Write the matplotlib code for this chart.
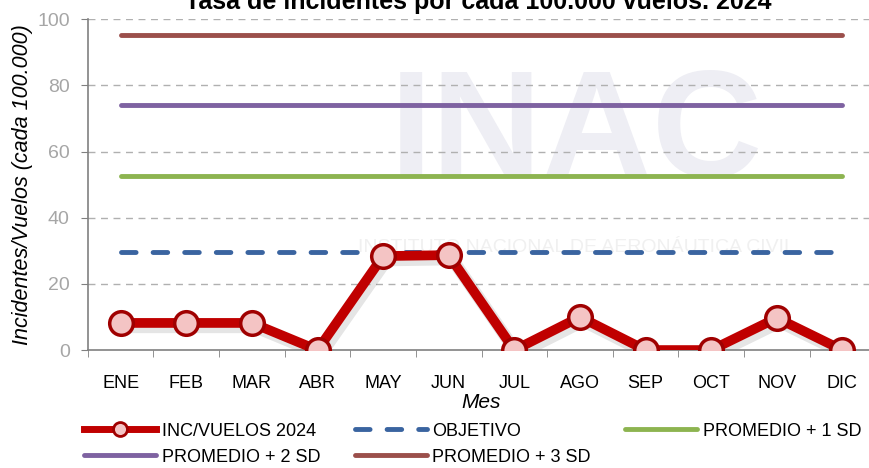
import matplotlib
matplotlib.use("Agg")
import matplotlib.pyplot as plt
from matplotlib.lines import Line2D

months = ["ENE", "FEB", "MAR", "ABR", "MAY", "JUN", "JUL", "AGO", "SEP", "OCT", "NOV", "DIC"]
inc_vuelos = [8.2, 8.2, 8.2, 0, 28.4, 28.7, 0, 10.0, 0, 0, 9.7, 0]
objetivo = 29.6
prom_1sd = 52.6
prom_2sd = 74.0
prom_3sd = 95.2
yticks = [0, 20, 40, 60, 80, 100]

plt.rcParams['font.family'] = ['Liberation Sans', 'DejaVu Sans']

fig = plt.figure(figsize=(8.7, 4.68), dpi=100)
ax = fig.add_axes([0.101, 0.252, 0.905, 0.707])

x = list(range(len(months)))
ax.set_xlim(-0.5, len(months) - 0.5)
ax.set_ylim(0, 100)

# watermark
ax.text(0.62, 0.64, "INAC", transform=ax.transAxes, fontsize=110, color="#eeeef4",
        ha="center", va="center", fontweight="bold", zorder=0)
ax.text(0.62, 0.31, "INSTITUTO NACIONAL DE AERONÁUTICA CIVIL", transform=ax.transAxes,
        fontsize=14, color="#f0f0f0", ha="center", va="center", zorder=0)

for v in yticks[1:]:
    ax.axhline(v, color="#b0b0b0", lw=1, ls=(0, (5, 4)), zorder=1)

ax.plot([x[0], x[-1]], [prom_3sd] * 2, color="#9B4F4B", lw=3.5, solid_capstyle="round", zorder=2)
ax.plot([x[0], x[-1]], [prom_2sd] * 2, color="#7E62A1", lw=3.5, solid_capstyle="round", zorder=2)
ax.plot([x[0], x[-1]], [prom_1sd] * 2, color="#8DB450", lw=3.5, solid_capstyle="round", zorder=2)
ax.plot([x[0], x[-1]], [objetivo] * 2, color="#3A64A0", lw=3.5, ls=(0, (3, 3.5)),
        dash_capstyle="round", zorder=2)

# shadow
ax.plot([xi + 0.05 for xi in x], [v - 1.2 for v in inc_vuelos], color="#000000", alpha=0.10,
        lw=9, zorder=2.5, solid_joinstyle="round")
ax.plot(x, inc_vuelos, color="#C00000", lw=7, zorder=3, solid_joinstyle="miter",
        marker="o", markersize=17, markerfacecolor="#F4C4C4", markeredgecolor="#A00000",
        markeredgewidth=2.5)

ax.set_xticks(x)
ax.set_xticklabels(months, fontsize=13)
ax.set_xticks([i - 0.5 for i in range(len(months) + 1)], minor=True)
ax.tick_params(axis="x", which="major", length=0, pad=18)
ax.tick_params(axis="x", which="minor", length=5, color="#808080")
ax.set_yticks(yticks)
ax.set_yticklabels([str(v) for v in yticks], fontsize=14, color="#a6a6a6")
ax.tick_params(axis="y", length=5, color="#808080", direction="out", pad=8)

for s in ["top", "right"]:
    ax.spines[s].set_visible(False)
for s in ["left", "bottom"]:
    ax.spines[s].set_color("#808080")
    ax.spines[s].set_linewidth(1.2)

ax.set_ylabel("Incidentes/Vuelos (cada 100.000)", fontsize=15.5, style="italic", labelpad=3)
ax.set_xlabel("Mes", fontsize=15, style="italic", labelpad=1)

fig.text(0.55, 0.995, "Tasa de incidentes por cada 100.000 vuelos. 2024", ha="center", va="center",
         fontsize=18, fontweight="bold")

h_inc = Line2D([0], [0], color="#C00000", lw=5, marker="o", markersize=10,
               markerfacecolor="#F4C4C4", markeredgecolor="#A00000", markeredgewidth=2)
h_obj = Line2D([0], [0], color="#3A64A0", lw=3.5, ls=(0, (3, 3.5)), dash_capstyle="round")
h_1 = Line2D([0], [0], color="#8DB450", lw=3.5, solid_capstyle="round")
h_2 = Line2D([0], [0], color="#7E62A1", lw=3.5, solid_capstyle="round")
h_3 = Line2D([0], [0], color="#9B4F4B", lw=3.5, solid_capstyle="round")
handles = [h_inc, h_2, h_obj, h_3, h_1]
labels = ["INC/VUELOS 2024", "PROMEDIO + 2 SD", "OBJETIVO", "PROMEDIO + 3 SD", "PROMEDIO + 1 SD"]
fig.legend(handles, labels, loc="lower left", bbox_to_anchor=(0.078, -0.03), ncol=3,
           frameon=False, fontsize=13, handlelength=4.0, columnspacing=1.9, handletextpad=0.3,
           labelspacing=0.5)

fig.savefig("out.png", dpi=100)
